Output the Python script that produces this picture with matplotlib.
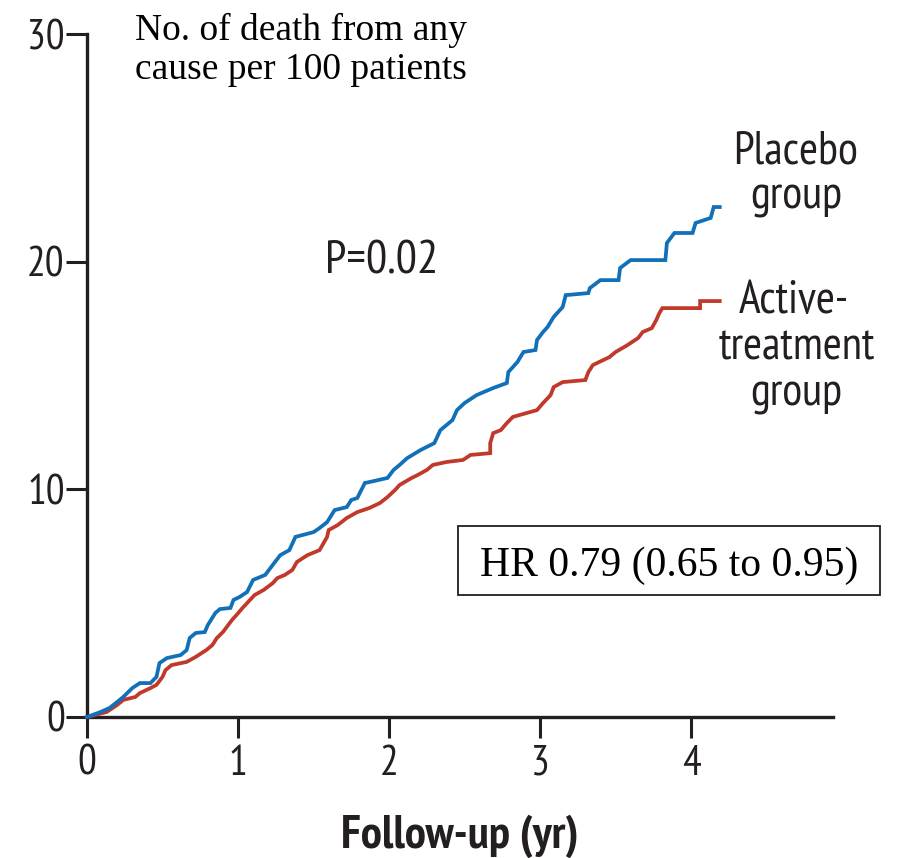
import matplotlib
matplotlib.use("Agg")
import matplotlib.pyplot as plt
from matplotlib.patches import Rectangle
from matplotlib import font_manager

# ---- data ----
placebo_x = [0, 0.09, 0.15, 0.20, 0.24, 0.30, 0.35, 0.42, 0.46, 0.48, 0.53, 0.62, 0.66, 0.68, 0.72,
             0.78, 0.80, 0.85, 0.88, 0.95, 0.97, 1.01, 1.06, 1.10, 1.18, 1.23, 1.28, 1.34, 1.38, 1.50,
             1.54, 1.59, 1.64, 1.72, 1.75, 1.79, 1.84, 1.87, 1.99, 2.03, 2.07, 2.12, 2.21, 2.30, 2.34,
             2.42, 2.45, 2.50, 2.58, 2.69, 2.78, 2.79, 2.85, 2.89, 2.97, 2.98, 3.02, 3.05, 3.09, 3.15,
             3.17, 3.32, 3.33, 3.40, 3.52, 3.53, 3.60, 3.83, 3.84, 3.89, 4.01, 4.03, 4.13, 4.15, 4.19]
placebo_y = [0, 0.22, 0.40, 0.66, 0.88, 1.27, 1.49, 1.49, 1.76, 2.37, 2.59, 2.72, 2.94, 3.47, 3.69,
             3.73, 4.04, 4.57, 4.74, 4.79, 5.14, 5.27, 5.49, 6.02, 6.24, 6.68, 7.11, 7.33, 7.91, 8.12,
             8.30, 8.56, 9.09, 9.22, 9.53, 9.62, 10.28, 10.32, 10.50, 10.85, 11.07, 11.37, 11.73, 12.03, 12.60,
             13.04, 13.48, 13.79, 14.14, 14.45, 14.67, 15.15, 15.59, 16.03, 16.12, 16.56, 16.91, 17.13, 17.57, 18.01,
             18.53, 18.62, 18.84, 19.19, 19.19, 19.72, 20.07, 20.07, 20.82, 21.26, 21.26, 21.70, 21.92, 22.40, 22.40]

active_x = [0, 0.13, 0.20, 0.24, 0.32, 0.35, 0.42, 0.46, 0.50, 0.52, 0.56, 0.66, 0.72, 0.79, 0.83,
            0.86, 0.90, 0.96, 0.99, 1.03, 1.11, 1.17, 1.23, 1.26, 1.31, 1.36, 1.39, 1.46, 1.54, 1.59,
            1.60, 1.66, 1.72, 1.79, 1.87, 1.94, 1.99, 2.04, 2.07, 2.15, 2.19, 2.25, 2.29, 2.38, 2.49,
            2.54, 2.67, 2.67, 2.69, 2.74, 2.78, 2.82, 2.91, 2.98, 3.02, 3.07, 3.09, 3.15, 3.30, 3.32,
            3.35, 3.46, 3.50, 3.58, 3.65, 3.68, 3.74, 3.77, 3.79, 3.81, 4.06, 4.06, 4.19]
active_y = [0, 0.22, 0.53, 0.75, 0.88, 1.05, 1.27, 1.41, 1.76, 2.06, 2.28, 2.42, 2.64, 2.94, 3.16,
            3.47, 3.73, 4.26, 4.48, 4.79, 5.36, 5.58, 5.88, 6.10, 6.24, 6.46, 6.81, 7.11, 7.33, 7.91,
            8.21, 8.43, 8.74, 9.00, 9.18, 9.40, 9.66, 9.97, 10.19, 10.50, 10.63, 10.85, 11.07, 11.20, 11.29,
            11.51, 11.59, 12.03, 12.47, 12.60, 12.91, 13.18, 13.35, 13.48, 13.79, 14.14, 14.49, 14.71, 14.80, 15.15,
            15.46, 15.81, 16.03, 16.34, 16.65, 16.91, 17.08, 17.44, 17.74, 17.96, 17.96, 18.27, 18.27]

x_ticks = [0, 1, 2, 3, 4]
y_ticks = [0, 10, 20, 30]

# ---- style ----
names = {f.name for f in font_manager.fontManager.ttflist}
_cands = ['PT Sans Narrow', 'Fira Sans Condensed', 'Roboto Condensed', 'Open Sans Condensed',
          'Asap Condensed', 'Archivo Narrow', 'Barlow Semi Condensed']
_pick = next((c for c in _cands if c in names), None)
SANS = [_pick, 'DejaVu Sans'] if _pick else ['DejaVu Sans']
SERIF = ['Liberation Serif', 'DejaVu Serif']
INK = '#231f20'
BLUE = '#1170b8'
RED = '#c0392b'

W, H = 899, 858
fig = plt.figure(figsize=(W / 100, H / 100), dpi=100)
ax = fig.add_axes([87 / W, 1 - 717 / H, (833 - 87) / W, (717 - 34) / H])

ax.plot(active_x, active_y, color=RED, lw=2.7, solid_joinstyle='miter', clip_on=False, zorder=3)
ax.plot(placebo_x, placebo_y, color=BLUE, lw=2.7, solid_joinstyle='miter', clip_on=False, zorder=4)

ax.set_xlim(0, 4.94)
ax.set_ylim(0, 30)
ax.set_xticks(x_ticks)
ax.set_yticks(y_ticks)
ax.set_xticklabels([str(v) for v in x_ticks], family=SANS, fontsize=30, color=INK)
ax.set_yticklabels([str(v) for v in y_ticks], family=SANS, fontsize=30, color=INK)
for s in ['top', 'right']:
    ax.spines[s].set_visible(False)
for s in ['left', 'bottom']:
    ax.spines[s].set_linewidth(2.4)
    ax.spines[s].set_color(INK)
ax.tick_params(axis='both', direction='out', length=15, width=2.2, color=INK)
ax.tick_params(axis='x', pad=5)
ax.tick_params(axis='y', pad=1)

def px(x, y):
    return x / W, 1 - y / H

fig.text(*px(460, 848), 'Follow-up (yr)', family=SANS, fontsize=34, fontweight='semibold',
         color=INK, ha='center', va='baseline')

fig.text(*px(135, 40), 'No. of death from any', family=SERIF, fontsize=27, color='black', va='baseline')
fig.text(*px(135, 79), 'cause per 100 patients', family=SERIF, fontsize=27, color='black', va='baseline')

fig.text(*px(325, 273), 'P=0.02', family=SANS, fontsize=34, color=INK, va='baseline')

LAB = 33
fig.text(*px(796, 163), 'Placebo', family=SANS, fontsize=LAB, color=INK, ha='center', va='baseline')
fig.text(*px(796, 208), 'group', family=SANS, fontsize=LAB, color=INK, ha='center', va='baseline')
fig.text(*px(794, 313), 'Active-', family=SANS, fontsize=LAB, color=INK, ha='center', va='baseline')
fig.text(*px(797, 359), 'treatment', family=SANS, fontsize=LAB, color=INK, ha='center', va='baseline')
fig.text(*px(796, 405), 'group', family=SANS, fontsize=LAB, color=INK, ha='center', va='baseline')

x0, y0 = px(458, 595)
x1, y1 = px(880, 526)
fig.patches.append(Rectangle((x0, y0), x1 - x0, y1 - y0, transform=fig.transFigure,
                             fill=False, edgecolor=INK, lw=1.3))
fig.text(*px(669, 576), 'HR 0.79 (0.65 to 0.95)', family=SERIF, fontsize=30, color='black',
         ha='center', va='baseline')

fig.savefig('out.png', dpi=100)
